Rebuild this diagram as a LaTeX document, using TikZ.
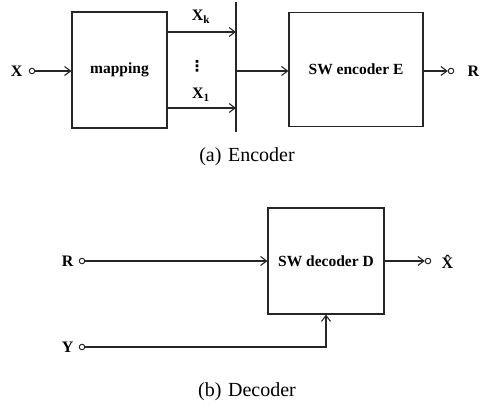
\documentclass[tikz,border=0pt]{standalone}
\usepackage{fontspec}
\setmainfont{Liberation Serif}
\newfontfamily\dotsfont{DejaVu Sans}
\usetikzlibrary{arrows.meta}
\begin{document}
\begin{tikzpicture}[x=1pt,y=-1pt,
  line width=1.1pt, draw=black!85,
  blk/.style={draw, rectangle, line width=1.1pt, inner sep=0pt,
              font=\fontsize{15.5}{18}\selectfont\bfseries},
  port/.style={draw, circle, fill=white, minimum size=5.5pt, inner sep=0pt, line width=1pt},
  lbl/.style={font=\fontsize{16}{18}\selectfont\bfseries, inner sep=0pt},
  captext/.style={font=\fontsize{20}{24}\selectfont, inner sep=0pt},
  flow/.style={-{Straight Barb[length=6pt,width=9pt,line width=1.1pt]}}]
\useasboundingbox (0,0) rectangle (492,409);

% ---- encoder ----
\node[blk, minimum width=95pt, minimum height=116pt] (map) at (119.5,70) {mapping};
\node[blk, minimum width=134pt, minimum height=114pt] (enc) at (356,69.5) {SW encoder E};

\node[port] (xin) at (32,71) {};
\node[lbl, anchor=east] (xlab) at (23,71) {X};
\draw[flow] (xin) -- (xin -| map.west);

% combining bar
\coordinate (bartop) at (236,2);
\coordinate (barbot) at (236,132);
\draw[line width=1.7pt] (bartop) -- (barbot);
\coordinate (xk) at (236,32);
\coordinate (xone) at (236,108);
\coordinate (barmid) at (236,71);
\draw[flow] (xk -| map.east) -- (xk);
\draw[flow] (xone -| map.east) -- (xone);
\node[lbl] (xklab) at (201,17) {X\textsubscript{k}};
\node[lbl] (x1lab) at (201,95) {X\textsubscript{1}};
\node[inner sep=0pt, font=\dotsfont\fontsize{15}{15}\selectfont\bfseries] (dots) at (197,66) {⋮};
\draw[flow] (barmid) -- (barmid -| enc.west);

\node[port] (rout) at (451,71) {};
\node[lbl, anchor=west] (rlab) at (467,71) {R};
\draw[flow] (rout -| enc.east) -- (rout.west);

\node[captext] (capa) at (247,157) {(a)\,\,Encoder};

% ---- decoder ----
\node[blk, minimum width=116pt, minimum height=106pt] (dec) at (326,261) {SW decoder D};

\node[port] (rin) at (82,261) {};
\node[lbl, anchor=east] (rinlab) at (74,261) {R};
\draw[flow] (rin) -- (rin -| dec.west);

\node[port] (yin) at (82,347) {};
\node[lbl, anchor=east] (yinlab) at (74,347) {Y};
\draw[flow] (yin) -| (dec.south);

\node[port] (xout) at (428,261) {};
\node[lbl, anchor=west] (xhat) at (441,262) {\^{X}};
\draw[flow] (xout -| dec.east) -- (xout.west);

\node[captext] (capb) at (247,392) {(b)\,\,Decoder};
\end{tikzpicture}
\end{document}
